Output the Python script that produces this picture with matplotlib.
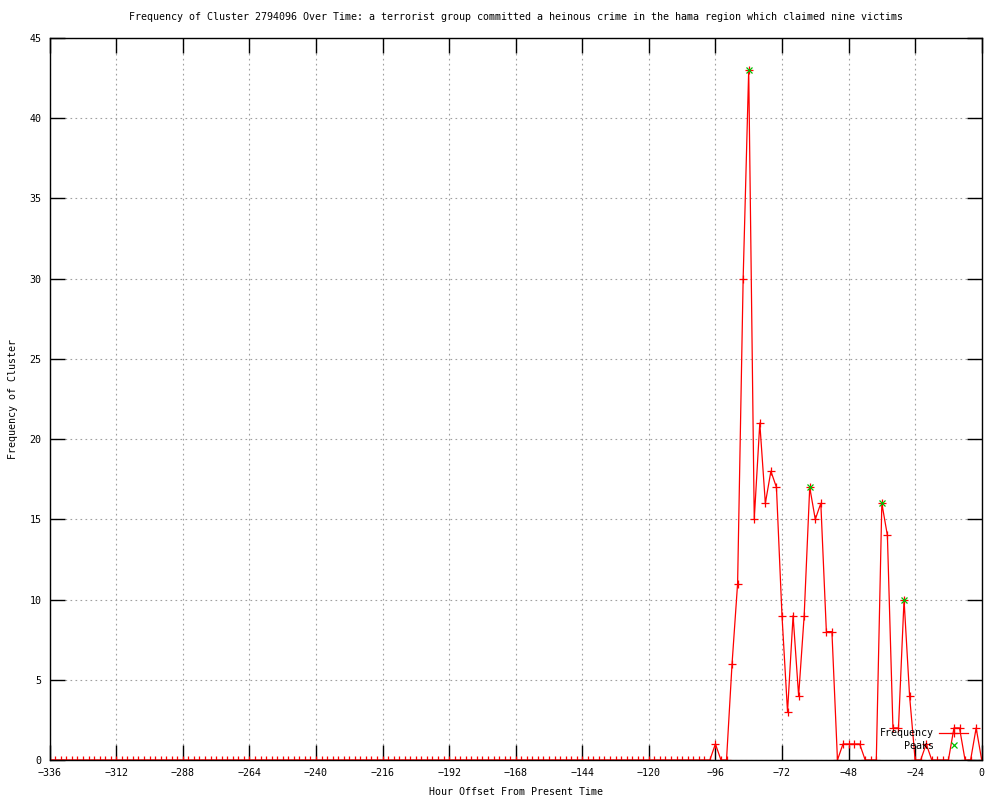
import matplotlib
matplotlib.use("Agg")
import matplotlib.pyplot as plt
import numpy as np

# hourly offsets (every 2 hours) and cluster frequency
hours = np.arange(-336, 1, 2)
frequency = [
    0, 0, 0, 0, 0, 0, 0, 0, 0, 0, 0, 0, 0, 0, 0, 0, 0, 0, 0, 0,
    0, 0, 0, 0, 0, 0, 0, 0, 0, 0, 0, 0, 0, 0, 0, 0, 0, 0, 0, 0,
    0, 0, 0, 0, 0, 0, 0, 0, 0, 0, 0, 0, 0, 0, 0, 0, 0, 0, 0, 0,
    0, 0, 0, 0, 0, 0, 0, 0, 0, 0, 0, 0, 0, 0, 0, 0, 0, 0, 0, 0,
    0, 0, 0, 0, 0, 0, 0, 0, 0, 0, 0, 0, 0, 0, 0, 0, 0, 0, 0, 0,
    0, 0, 0, 0, 0, 0, 0, 0, 0, 0, 0, 0, 0, 0, 0, 0, 0, 0, 0, 0,
    1, 0, 0, 6, 11, 30, 43, 15, 21, 16,
    18, 17, 9, 3, 9, 4, 9, 17, 15, 16,
    8, 8, 0, 1, 1, 1, 1, 0, 0, 0,
    16, 14, 2, 2, 10, 4, 0, 0, 1, 0,
    0, 0, 0, 2, 2, 0, 0, 2, 0,
]
peak_hours = [-84, -62, -36, -28]
peak_values = [43, 17, 16, 10]

x_ticks = np.arange(-336, 1, 24)
y_ticks = np.arange(0, 46, 5)

title = ("Frequency of Cluster 2794096 Over Time: a terrorist group committed "
         "a heinous crime in the hama region which claimed nine victims")

plt.rcParams['font.family'] = ['DejaVu Sans Mono']
plt.rcParams['font.size'] = 7.2

fig = plt.figure(figsize=(10, 8), dpi=100)
ax = fig.add_axes([0.0497, 0.05, 0.932, 0.9025])

ax.plot(hours, frequency, color='red', lw=0.9, marker='+', ms=6, mew=0.9,
        label='Frequency', zorder=3)
ax.plot(peak_hours, peak_values, ls='none', color='#00c000', marker='x', ms=5,
        mew=0.9, label='Peaks', zorder=4)

ax.set_xlim(-336, 0)
ax.set_ylim(0, 45)
ax.set_xticks(x_ticks)
ax.set_yticks(y_ticks)
ax.tick_params(direction='in', length=11, width=1, top=True, right=True,
               labelsize=7.2, pad=6)
ax.grid(True, color='#a0a0a0', ls=(0, (1.5, 3)), lw=0.8)
for sp in ax.spines.values():
    sp.set_linewidth(1)
    sp.set_zorder(5)

ax.set_title(title, fontsize=7.2, pad=13)
ax.set_xlabel('Hour Offset From Present Time', fontsize=7.2, labelpad=6)
ax.set_ylabel('Frequency of Cluster', fontsize=7.2, labelpad=8)

ax.legend(loc='lower right', bbox_to_anchor=(0.993, 0.003), frameon=False,
          markerfirst=False, handlelength=2.9, labelspacing=0.28,
          handletextpad=0.5, borderpad=0.2, fontsize=7.2)

fig.savefig('out.png', dpi=100)
